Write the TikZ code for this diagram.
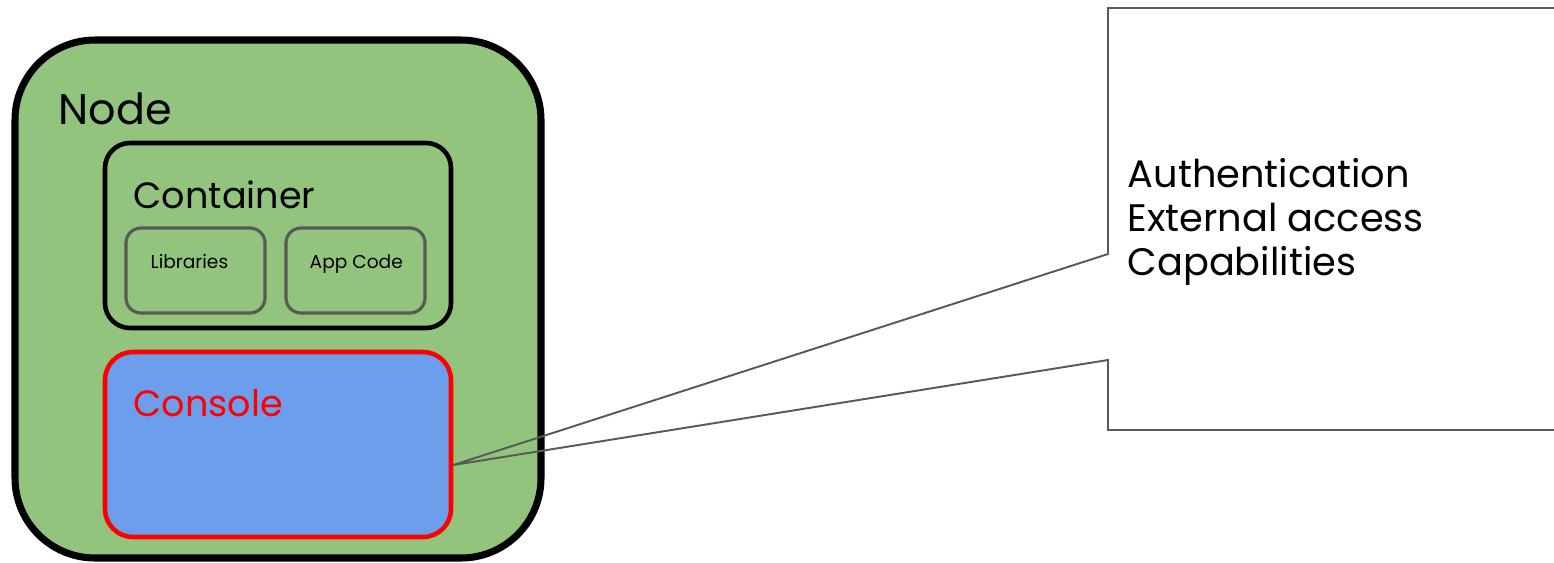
\documentclass[tikz,border=0pt]{standalone}
\usepackage{fontspec}
\setmainfont{Poppins}
\usetikzlibrary{positioning, calc}
\definecolor{Leaf}{HTML}{93C47D}
\definecolor{Sky}{HTML}{6D9EEB}
\definecolor{Slate}{HTML}{595959}
\definecolor{Alarm}{HTML}{FF0000}

\tikzset{
    hostbox/.style={draw=black, line width=2pt, fill=Leaf, rounded corners=0.8cm, inner sep=0},
    podbox/.style={draw=black, line width=1.3pt, fill=Leaf, rounded corners=0.25cm, inner sep=0},
    partbox/.style={draw=Slate, line width=0.9pt, fill=Leaf, rounded corners=0.15cm, inner sep=0},
    shellbox/.style={draw=Alarm, line width=1.3pt, fill=Sky, rounded corners=0.28cm, inner sep=0},
    bigtext/.style={anchor=base west, inner sep=0, font=\fontsize{10.4}{12.5}\selectfont},
    smalltext/.style={anchor=base west, inner sep=0, font=\fontsize{5.3}{6.4}\selectfont},
}

\begin{document}
\begin{tikzpicture}
    \useasboundingbox (0,0) rectangle (15.54,5.62);

    % Node box
    \node[hostbox, minimum width=5.26cm, minimum height=5.18cm] (host) at (2.78,2.63) {};
    \node[bigtext, font=\fontsize{12.2}{14}\selectfont] (hostlabel) at (0.58,4.38) {Node};

    % Container with its two parts
    \node[podbox, minimum width=3.46cm, minimum height=1.85cm] (pod) at (2.78,3.265) {};
    \node[bigtext] (podlabel) at (1.33,3.54) {Container};
    \node[partbox, minimum width=1.39cm, minimum height=0.85cm] (libs) at (1.955,2.915) {};
    \node[partbox, minimum width=1.39cm, minimum height=0.85cm] (app) at (3.555,2.915) {};
    \node[smalltext] (libslabel) at (1.50,2.94) {Libraries};
    \node[smalltext] (applabel) at (3.09,2.94) {App Code};

    % Console
    \node[shellbox, minimum width=3.46cm, minimum height=1.85cm] (shell) at (2.78,1.175) {};
    \node[bigtext, Alarm] (shelllabel) at (1.33,1.46) {Console};

    % Callout pointing at the console
    \coordinate (tip) at ($(shell.east)+(0,-0.205)$);
    \coordinate (c1) at (11.08,5.54);
    \coordinate (c2) at (15.7,5.54);
    \coordinate (c3) at (15.7,1.32);
    \coordinate (c4) at (11.08,1.32);
    \coordinate (c5) at (11.08,2.02);
    \coordinate (c6) at (11.08,3.08);
    \draw[draw=Slate, line width=0.55pt, line join=miter]
        (c1) -- (c2) -- (c3) -- (c4) -- (c5) -- (tip) -- (c6) -- cycle;

    \node[bigtext, font=\fontsize{10.9}{12.5}\selectfont, align=left, anchor=north west] (notes) at (11.27,4.04)
        {Authentication\\External access\\Capabilities};
\end{tikzpicture}
\end{document}
